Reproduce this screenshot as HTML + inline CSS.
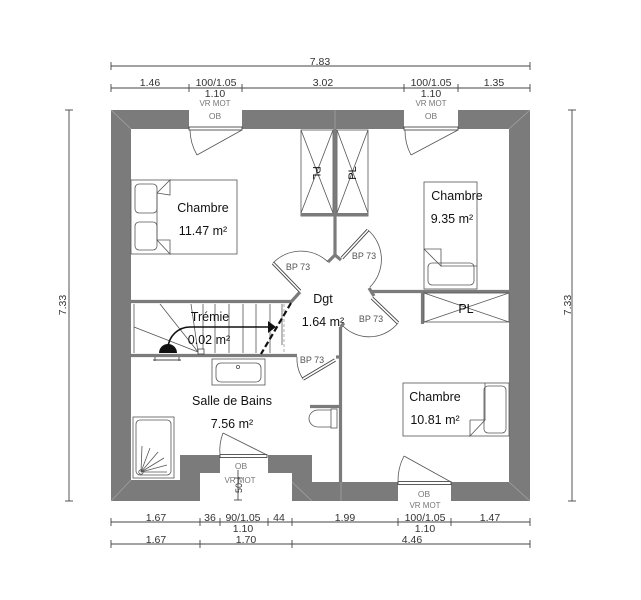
<!DOCTYPE html>
<html><head><meta charset="utf-8"><style>
html,body{margin:0;padding:0;background:#fff;}
svg{display:block;}
text{font-family:"Liberation Sans",Arial,sans-serif;}
.d{font-size:10.5px;fill:#333;text-anchor:middle;}
.s{font-size:8px;fill:#777;text-anchor:middle;}
.r{font-size:12.5px;fill:#111;text-anchor:middle;}
.b{font-size:9px;fill:#555;text-anchor:middle;}
.w{fill:#7b7b7b;}
.ln{stroke:#444;stroke-width:0.9;fill:none;}
.th{stroke:#555;stroke-width:0.8;fill:none;}
.pw{stroke:#7b7b7b;stroke-width:3.2;fill:none;}
</style></head><body>
<svg width="641" height="600" viewBox="0 0 641 600" xmlns="http://www.w3.org/2000/svg">
<rect width="641" height="600" fill="#fff"/>

<!-- ===== Dimension lines top ===== -->
<g class="ln">
<line x1="111" y1="66" x2="530" y2="66"/>
<line x1="111" y1="62" x2="111" y2="70"/><line x1="530" y1="62" x2="530" y2="70"/>
<line x1="111" y1="88" x2="530" y2="88"/>
<line x1="111" y1="84" x2="111" y2="92"/><line x1="189" y1="84" x2="189" y2="92"/>
<line x1="242" y1="84" x2="242" y2="92"/><line x1="404" y1="84" x2="404" y2="92"/>
<line x1="458" y1="84" x2="458" y2="92"/><line x1="530" y1="84" x2="530" y2="92"/>
</g>
<text class="d" x="320" y="65">7.83</text>
<text class="d" x="150" y="86">1.46</text>
<text class="d" x="216" y="86">100/1.05</text>
<text class="d" x="323" y="86">3.02</text>
<text class="d" x="431" y="86">100/1.05</text>
<text class="d" x="494" y="86">1.35</text>
<text class="d" x="215" y="97">1.10</text>
<text class="d" x="431" y="97">1.10</text>
<text class="s" x="215" y="106">VR MOT</text>
<text class="s" x="431" y="106">VR MOT</text>
<text class="s" x="215" y="119" style="font-size:8.5px">OB</text>
<text class="s" x="431" y="119" style="font-size:8.5px">OB</text>

<!-- ===== Dimension lines bottom ===== -->
<g class="ln">
<line x1="111" y1="522" x2="530" y2="522"/>
<line x1="111" y1="518" x2="111" y2="526"/><line x1="200" y1="518" x2="200" y2="526"/>
<line x1="220" y1="518" x2="220" y2="526"/><line x1="268" y1="518" x2="268" y2="526"/>
<line x1="292" y1="518" x2="292" y2="526"/><line x1="398" y1="518" x2="398" y2="526"/>
<line x1="451" y1="518" x2="451" y2="526"/><line x1="530" y1="518" x2="530" y2="526"/>
<line x1="111" y1="544" x2="530" y2="544"/>
<line x1="111" y1="540" x2="111" y2="548"/><line x1="200" y1="540" x2="200" y2="548"/>
<line x1="292" y1="540" x2="292" y2="548"/><line x1="530" y1="540" x2="530" y2="548"/>
</g>
<text class="d" x="156" y="521">1.67</text>
<text class="d" x="210" y="521">36</text>
<text class="d" x="243" y="521">90/1.05</text>
<text class="d" x="279" y="521">44</text>
<text class="d" x="345" y="521">1.99</text>
<text class="d" x="425" y="521">100/1.05</text>
<text class="d" x="490" y="521">1.47</text>
<text class="d" x="243" y="532">1.10</text>
<text class="d" x="425" y="532">1.10</text>
<text class="d" x="156" y="543">1.67</text>
<text class="d" x="246" y="543">1.70</text>
<text class="d" x="412" y="543">4.46</text>

<!-- ===== Side dimensions ===== -->
<g class="ln">
<line x1="69" y1="110" x2="69" y2="501"/>
<line x1="65" y1="110" x2="73" y2="110"/><line x1="65" y1="501" x2="73" y2="501"/>
<line x1="572" y1="110" x2="572" y2="501"/>
<line x1="568" y1="110" x2="576" y2="110"/><line x1="568" y1="501" x2="576" y2="501"/>
</g>
<text class="d" transform="translate(66,305) rotate(-90)" x="0" y="0">7.33</text>
<text class="d" transform="translate(571,305) rotate(-90)" x="0" y="0">7.33</text>

<!-- ===== Outer walls ===== -->
<rect class="w" x="111" y="110" width="78" height="19"/>
<rect class="w" x="242" y="110" width="162" height="19"/>
<rect class="w" x="458" y="110" width="72" height="19"/>
<rect class="w" x="111" y="110" width="20" height="391"/>
<rect class="w" x="509" y="110" width="21" height="391"/>
<polygon class="w" points="111,480 180,480 180,455 220,455 220,473 200,473 200,501 111,501"/>
<polygon class="w" points="268,455 312,455 312,482 398,482 398,501 292,501 292,473 268,473"/>
<rect class="w" x="451" y="482" width="79" height="19"/>
<g stroke="#a5a5a5" stroke-width="0.7">
<line x1="111" y1="110" x2="131" y2="129"/>
<line x1="530" y1="110" x2="509" y2="129"/>
<line x1="111" y1="501" x2="131" y2="480"/>
<line x1="530" y1="501" x2="509" y2="482"/>
<line x1="292" y1="482" x2="312" y2="501"/>
<line x1="335" y1="110" x2="335" y2="129"/>
<line x1="341" y1="482" x2="341" y2="501"/>
</g>

<!-- ===== Interior partitions ===== -->
<line class="pw" x1="335" y1="129" x2="335" y2="255"/>
<polyline class="pw" points="328,262 335,255 341,260"/>
<line class="pw" x1="370" y1="291.5" x2="509" y2="291.5"/>
<line class="pw" x1="369" y1="288" x2="374" y2="296"/>
<line class="pw" x1="340.5" y1="327" x2="340.5" y2="482"/>
<line class="pw" x1="340.5" y1="327" x2="344" y2="323"/>
<line class="pw" x1="131" y1="301.5" x2="292" y2="301.5"/>
<line class="pw" x1="291" y1="302" x2="300" y2="292"/>
<line class="pw" x1="131" y1="355.5" x2="297" y2="355.5"/>
<line class="pw" x1="336" y1="357" x2="342" y2="357"/>
<line class="pw" x1="310" y1="406.5" x2="341" y2="406.5"/>
<line class="pw" x1="422.5" y1="291" x2="422.5" y2="324"/>

<!-- ===== Windows ===== -->
<g stroke="#333" stroke-width="0.8" fill="#fff">
<rect x="189" y="127" width="53" height="3"/>
<rect x="404" y="127" width="54" height="3"/>
<rect x="220" y="454.5" width="47" height="3"/>
<rect x="398" y="481.5" width="53" height="3"/>
</g>
<g class="th">
<line x1="242" y1="130" x2="197" y2="155"/>
<path d="M197,155 A52,52 0 0,1 190,130"/>
<line x1="458" y1="130" x2="411" y2="155"/>
<path d="M411,155 A52,52 0 0,1 405,130"/>
<line x1="267" y1="455" x2="223" y2="433"/>
<path d="M223,433 A49,49 0 0,0 220,455"/>
<line x1="451" y1="482" x2="404" y2="456"/>
<path d="M404,456 A53,53 0 0,0 398,482"/>
</g>
<text class="s" x="241" y="469" style="font-size:8.5px">OB</text>
<text class="s" x="240" y="483">VR MOT</text>
<text class="s" x="424" y="497" style="font-size:8.5px">OB</text>
<text class="s" x="425" y="508">VR MOT</text>
<g stroke="#333" stroke-width="0.8">
<line x1="238" y1="470" x2="238" y2="500"/>
<line x1="234" y1="500" x2="242" y2="500"/>
<line x1="234" y1="478" x2="242" y2="478"/>
</g>
<text transform="translate(242,488) rotate(-90)" style="font-size:9px;fill:#333;text-anchor:middle">50</text>

<!-- ===== Hall doors ===== -->
<g>
<line x1="300" y1="291" x2="273" y2="263" stroke="#444" stroke-width="3.4"/>
<line x1="300" y1="291" x2="273" y2="263" stroke="#fff" stroke-width="1.6"/>
<line x1="342" y1="258" x2="368" y2="230" stroke="#444" stroke-width="3.4"/>
<line x1="342" y1="258" x2="368" y2="230" stroke="#fff" stroke-width="1.6"/>
<line x1="372" y1="298" x2="398" y2="323" stroke="#444" stroke-width="3.4"/>
<line x1="372" y1="298" x2="398" y2="323" stroke="#fff" stroke-width="1.6"/>
<line x1="335" y1="360" x2="303" y2="379" stroke="#444" stroke-width="3.4"/>
<line x1="335" y1="360" x2="303" y2="379" stroke="#fff" stroke-width="1.6"/>
</g>
<g class="th">
<path d="M273,263 A39,39 0 0,1 328,262"/>
<path d="M368,230 A39,39 0 0,1 370,287"/>
<path d="M398,323 A37,37 0 0,1 343,326"/>
<path d="M303,379 A37,37 0 0,1 297,357"/>
</g>
<text class="b" x="298" y="270">BP 73</text>
<text class="b" x="364" y="259">BP 73</text>
<text class="b" x="371" y="322">BP 73</text>
<text class="b" x="312" y="363">BP 73</text>

<!-- ===== Closets ===== -->
<g class="th" stroke="#555">
<rect x="301" y="130" width="32" height="86"/>
<line x1="301" y1="130" x2="333" y2="213"/><line x1="333" y1="130" x2="301" y2="213"/>
<rect x="337" y="130" width="31" height="86"/>
<line x1="337" y1="130" x2="368" y2="213"/><line x1="368" y1="130" x2="337" y2="213"/>
<rect x="424" y="293" width="85" height="29"/>
<line x1="424" y1="293" x2="509" y2="322"/><line x1="509" y1="293" x2="424" y2="322"/>
</g>
<rect x="301" y="213" width="67" height="3" fill="#7b7b7b"/>
<text transform="translate(313,173) rotate(90)" style="font-size:11px;fill:#111;text-anchor:middle">PL</text>
<text transform="translate(356,173) rotate(-90)" style="font-size:11px;fill:#111;text-anchor:middle">PL</text>
<text x="466" y="313" style="font-size:12.5px;fill:#111;text-anchor:middle">PL</text>

<!-- ===== Beds ===== -->
<g class="th">
<rect x="131" y="180" width="106" height="74"/>
<rect x="135" y="184" width="22" height="29" rx="4"/>
<rect x="135" y="222" width="22" height="28" rx="4"/>
<line x1="157" y1="193" x2="157" y2="240"/>
<polyline points="157,193 170,180 170,195 157,193"/>
<polyline points="157,240 170,254 170,240 157,240"/>

<rect x="424" y="182" width="53" height="107"/>
<rect x="428" y="263" width="46" height="22" rx="4"/>
<line x1="441" y1="266" x2="477" y2="266"/>
<polyline points="424,249 441,249 441,266 424,249"/>

<rect x="403" y="383" width="106" height="53"/>
<rect x="484" y="386" width="22" height="47" rx="4"/>
<line x1="485" y1="383" x2="485" y2="420"/>
<polyline points="470,420 485,420 470,436 470,420"/>
</g>

<!-- ===== Bathroom ===== -->
<g class="th">
<rect x="212" y="359" width="53" height="26"/>
<rect x="216" y="363" width="45" height="19" rx="5"/>
<circle cx="238" cy="367" r="1.6"/>
<rect x="133" y="417" width="41" height="61"/>
<rect x="136" y="420" width="35" height="55" rx="4"/>
<circle cx="141" cy="472" r="2.2"/>
<line x1="141" y1="472" x2="142" y2="446"/>
<line x1="141" y1="472" x2="150" y2="448"/>
<line x1="141" y1="472" x2="158" y2="452"/>
<line x1="141" y1="472" x2="164" y2="458"/>
<line x1="141" y1="472" x2="167" y2="465"/>
<line x1="141" y1="472" x2="167" y2="472"/>
<rect x="331" y="409" width="6" height="19"/>
<path d="M331,410 L318,410 A9,8.5 0 0,0 318,427 L331,427"/>
</g>

<!-- ===== Stairs ===== -->
<g class="th">
<line x1="134" y1="304" x2="134" y2="353"/>
<line x1="203" y1="304" x2="203" y2="353"/>
<line x1="215" y1="304" x2="215" y2="353"/>
<line x1="229" y1="304" x2="229" y2="353"/>
<line x1="243" y1="304" x2="243" y2="353"/>
<line x1="256" y1="304" x2="256" y2="353"/>
<line x1="270" y1="304" x2="270" y2="353"/>
<line x1="282" y1="304" x2="282" y2="345"/>
<line x1="160" y1="304" x2="198" y2="352"/>
<line x1="134" y1="327" x2="198" y2="352"/>
<line x1="191" y1="304" x2="198" y2="352"/>
</g>
<line x1="284" y1="304" x2="284" y2="354" stroke="#999" stroke-width="0.8" stroke-dasharray="3,2"/>
<path d="M168,348 A22,22 0 0,1 190,327 L270,327" stroke="#111" stroke-width="1.6" fill="none"/>
<polygon points="268,321 276,327 268,333" fill="#111"/>
<path d="M159,353 A9,9 0 0,1 177,353 Z" fill="#111"/>
<rect x="198" y="349" width="6" height="5" fill="#fff" stroke="#444" stroke-width="0.8"/>
<g stroke="#444" stroke-width="0.9" fill="none">
<line x1="153" y1="360" x2="181" y2="360"/>
<line x1="155" y1="357" x2="155" y2="361"/>
<line x1="179" y1="357" x2="179" y2="361"/>
</g>
<line x1="291" y1="303" x2="261" y2="354" stroke="#111" stroke-width="2.2" stroke-dasharray="6,3"/>

<!-- ===== Room labels ===== -->
<text class="r" x="203" y="212">Chambre</text>
<text class="r" x="203" y="235">11.47 m²</text>
<text class="r" x="457" y="200">Chambre</text>
<text class="r" x="452" y="223">9.35 m²</text>
<text class="r" x="435" y="401">Chambre</text>
<text class="r" x="435" y="424">10.81 m²</text>
<text class="r" x="232" y="405">Salle de Bains</text>
<text class="r" x="232" y="428">7.56 m²</text>
<text class="r" x="323" y="303">Dgt</text>
<text class="r" x="323" y="326">1.64 m²</text>
<text class="r" x="210" y="321">Trémie</text>
<text class="r" x="209" y="344">0.02 m²</text>
</svg>
</body></html>
